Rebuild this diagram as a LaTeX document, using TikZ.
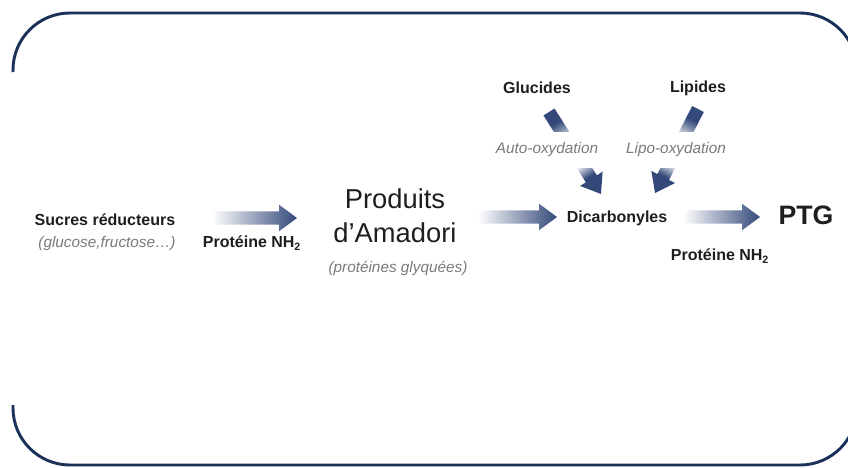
\documentclass[tikz,border=0pt]{standalone}
\usepackage{fontspec}
\setmainfont{Liberation Sans}
\usetikzlibrary{calc}
\definecolor{framenavy}{HTML}{1B3159}
\definecolor{arrownavy}{HTML}{34497A}
\definecolor{textdark}{HTML}{1E1E1E}
\definecolor{textgray}{HTML}{7A7A7A}
\pgfdeclareverticalshading{feedshade}{100bp}{color(0bp)=(arrownavy); color(30bp)=(arrownavy);
  color(40bp)=(white); color(58bp)=(white); color(66bp)=(arrownavy!60!white); color(72bp)=(arrownavy); color(100bp)=(arrownavy)}
\newcommand{\fatarrow}[3][]{%
  \coordinate (fa-head) at ($(#3)!13.5pt!(#2)$);
  \shade[#1] ($(#2)!4.9pt!90:(#3)$) -- ($(fa-head)!4.9pt!90:(#3)$) -- ($(fa-head)!10pt!90:(#3)$) -- (#3)
    -- ($(fa-head)!10pt!-90:(#3)$) -- ($(fa-head)!4.9pt!-90:(#3)$) -- ($(#2)!4.9pt!-90:(#3)$) -- cycle;}

\begin{document}
\begin{tikzpicture}[x=0.75pt, y=-0.75pt,
    frame/.style={draw=framenavy, line width=2.2pt, rounded corners=42.75pt},
    bold/.style={font=\fontsize{12}{14}\selectfont\bfseries, text=textdark, inner sep=1pt},
    ital/.style={font=\fontsize{11.5}{14}\selectfont\itshape, text=textgray, inner sep=1pt},
    flow/.style={left color=white, right color=arrownavy},
    feed/.style={shading=feedshade}]
    \clip (0,0) rectangle (848,467);
    \draw[frame] (13,72) -- (13,13) -- (857,13) -- (857,465) -- (13,465) -- (13,405);
    \node[bold] at (105,220) (sucres) {Sucres réducteurs};
    \node[ital] at (107,244) (exemples) {(glucose,fructose…)};
    \node[bold] at (252,243) (prot1) {Protéine NH\textsubscript{2}};
    \node[font=\fontsize{20.5}{25.5}\selectfont, text=textdark, align=center, inner sep=1pt] at (395,216) (amadori) {Produits\\d’Amadori};
    \node[ital] at (398,268) (glyq) {(protéines glyquées)};
    \node[bold] at (617,218) (dicarb) {Dicarbonyles};
    \node[font=\fontsize{20}{24}\selectfont\bfseries, text=textdark, inner sep=1pt] at (806,215) (ptg) {PTG};
    \node[bold] at (720,256) (prot2) {Protéine NH\textsubscript{2}};
    \node[bold] at (537,88) (glucides) {Glucides};
    \node[bold] at (698,88) (lipides) {Lipides};
    \coordinate (sucres-out) at (212,218);
    \coordinate (amadori-in) at (297,218);
    \coordinate (amadori-out) at (478,217);
    \coordinate (dicarb-in) at (557,217);
    \coordinate (dicarb-out) at (683,217);
    \coordinate (ptg-in) at (760,217);
    \coordinate (glucides-out) at (549,112);
    \coordinate (dicarb-gl) at (601,194);
    \coordinate (lipides-out) at (698,109);
    \coordinate (dicarb-li) at (655,193);
    \fatarrow[flow]{sucres-out}{amadori-in}
    \fatarrow[flow]{amadori-out}{dicarb-in}
    \fatarrow[flow]{dicarb-out}{ptg-in}
    \fatarrow[feed, shading angle=32.8]{glucides-out}{dicarb-gl}
    \fatarrow[feed, shading angle=-27.9]{lipides-out}{dicarb-li}
    \node[ital, fill=white, inner ysep=8pt] at (547,150) (auto) {Auto-oxydation};
    \node[ital, fill=white, inner ysep=8pt] at (676,150) (lipo) {Lipo-oxydation};
\end{tikzpicture}
\end{document}
